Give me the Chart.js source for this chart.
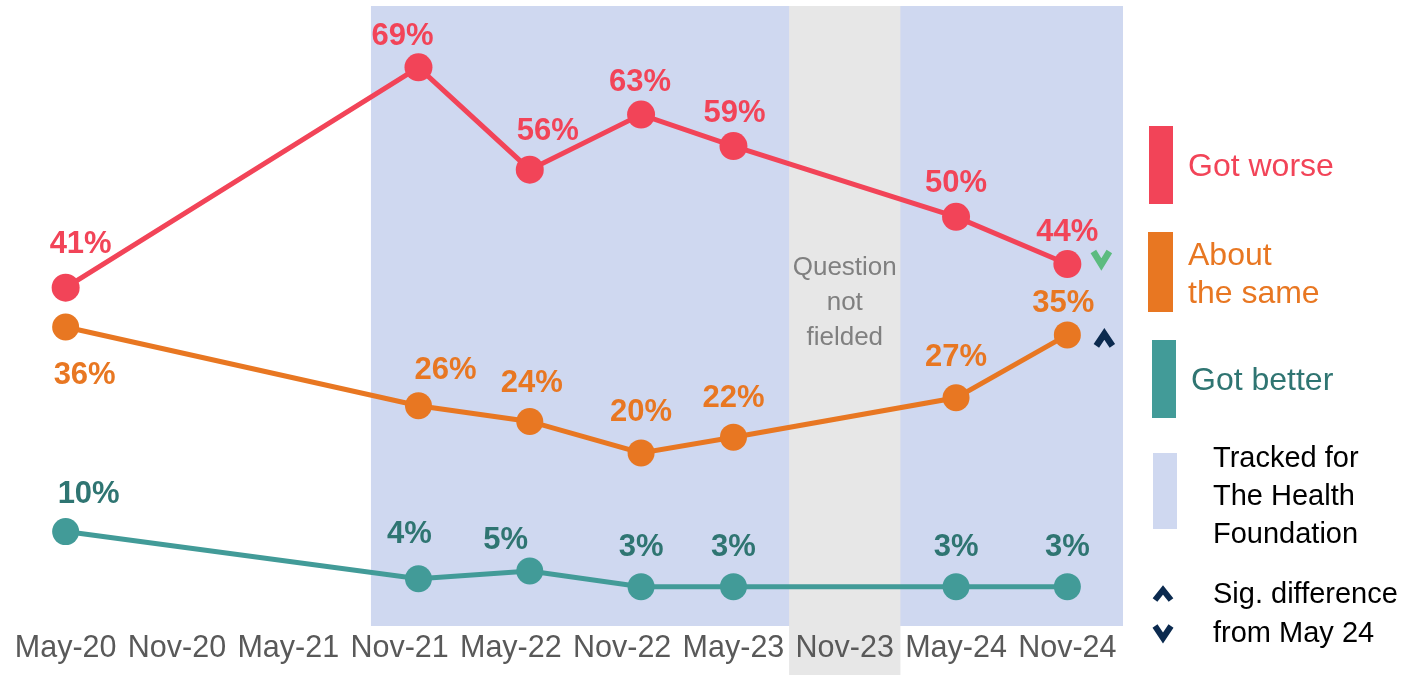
<!DOCTYPE html>
<html>
<head>
<meta charset="utf-8">
<script src="https://cdn.jsdelivr.net/npm/chart.js@4/dist/chart.umd.min.js"></script>
<style>
  html, body { margin: 0; padding: 0; background: #fff; }
  #wrap { position: relative; width: 1402px; height: 675px; overflow: hidden; font-family: Arial, "Liberation Sans", Helvetica, sans-serif; }
  canvas { position: absolute; left: 0; top: 0; }
  .lg { position: absolute; white-space: nowrap; }
</style>
</head>
<body>
<div id="wrap">
  <canvas id="c" width="1402" height="675"></canvas>
  <div class="lg" style="left:1188px; top:147px; font-size:32px; line-height:37px; color:#F24458;">Got worse</div>
  <div class="lg" style="left:1188px; top:236px; font-size:32px; line-height:37.5px; color:#E87722;">About<br>the same</div>
  <div class="lg" style="left:1191px; top:361px; font-size:32px; line-height:37px; color:#2F7572;">Got better</div>
  <div class="lg" style="left:1213px; top:438px; font-size:29px; color:#000; line-height:38px;">Tracked for<br>The Health<br>Foundation</div>
  <div class="lg" style="left:1213px; top:574px; font-size:29px; color:#000; line-height:39px;">Sig. difference<br>from May 24</div>
</div>
<script>
// ---- data ----
const categories = ['May-20','Nov-20','May-21','Nov-21','May-22','Nov-22','May-23','Nov-23','May-24','Nov-24'];
const waveX = [0, 3.17, 4.17, 5.17, 6, 8, 9];
const gotWorse  = [41, 69, 56, 63, 59, 50, 44];
const aboutSame = [36, 26, 24, 20, 22, 27, 35];
const gotBetter = [10, 4, 5, 3, 3, 3, 3];
const trackedFrom = 2.743;     // start of Health Foundation tracking band
const notFielded = 7;          // Nov-23 index

// label offsets (px) relative to each point (visual centre)
const offWorse  = [[15,-45],[-16,-33],[18,-40],[-1,-34],[1,-35],[0,-35],[0,-34]];
const offSame   = [[19,46],[27,-37],[2,-40],[0,-42],[0,-41],[0,-42],[-4,-33]];
const offBetter = [[23,-39],[-9,-46],[-24,-32],[0,-41],[0,-41],[0,-41],[0,-41]];

const FONT = 'Arial, "Liberation Sans", Helvetica, sans-serif';
const RED = '#F24458', ORANGE = '#E87722', TEAL = '#429B98', TEALTXT = '#2F7572';
const NAVY = '#0B2A4F', GREEN = '#5CBB7F';

const mk = arr => waveX.map((x, i) => ({x, y: arr[i]}));

function chevron(ctx, cx, cy, w, h, up, color, lw) {
  ctx.save();
  ctx.strokeStyle = color; ctx.lineWidth = lw || 5.5; ctx.lineJoin = 'miter'; ctx.lineCap = 'butt';
  ctx.beginPath();
  if (up) { ctx.moveTo(cx - w/2, cy + h/2); ctx.lineTo(cx, cy - h/2); ctx.lineTo(cx + w/2, cy + h/2); }
  else    { ctx.moveTo(cx - w/2, cy - h/2); ctx.lineTo(cx, cy + h/2); ctx.lineTo(cx + w/2, cy - h/2); }
  ctx.stroke();
  ctx.restore();
}

const bands = {
  id: 'bands',
  beforeDraw(chart) {
    const {ctx, chartArea: a, scales: {x}} = chart;
    ctx.save();
    ctx.fillStyle = '#CFD8F0';
    const l = x.getPixelForValue(trackedFrom);
    ctx.fillRect(l, a.top, a.right - l, a.bottom - a.top);
    ctx.fillStyle = '#E7E7E7';
    const gl = x.getPixelForValue(notFielded - 0.5), gr = x.getPixelForValue(notFielded + 0.5);
    ctx.fillRect(gl, a.top, gr - gl, chart.height - a.top);
    // question not fielded
    ctx.fillStyle = '#808080';
    ctx.font = '26px ' + FONT;
    ctx.textAlign = 'center'; ctx.textBaseline = 'middle';
    const cx = x.getPixelForValue(notFielded);
    ['Question','not','fielded'].forEach((t, i) => ctx.fillText(t, cx, 268 + i * 35));
    // legend swatches
    ctx.fillStyle = RED;    ctx.fillRect(1149, 126, 24, 78);
    ctx.fillStyle = ORANGE; ctx.fillRect(1148, 232, 25, 80);
    ctx.fillStyle = TEAL;   ctx.fillRect(1152, 340, 24, 78);
    ctx.fillStyle = '#CFD8F0'; ctx.fillRect(1153, 453, 24, 76);
    ctx.restore();
    chevron(ctx, 1163, 595, 16, 10, true, NAVY, 6);
    chevron(ctx, 1163, 632, 16, 12, false, NAVY, 6);
  }
};

const labels = {
  id: 'labels',
  afterDatasetsDraw(chart) {
    const ctx = chart.ctx;
    const offs = [offWorse, offSame, offBetter];
    const cols = [RED, ORANGE, TEALTXT];
    ctx.save();
    ctx.font = 'bold 31px ' + FONT;
    ctx.textAlign = 'center'; ctx.textBaseline = 'middle';
    chart.data.datasets.forEach((ds, di) => {
      const meta = chart.getDatasetMeta(di);
      ctx.fillStyle = cols[di];
      meta.data.forEach((pt, i) => {
        ctx.fillText(ds.data[i].y + '%', pt.x + offs[di][i][0], pt.y + offs[di][i][1] + 2);
      });
    });
    ctx.restore();
    // significance markers at last wave
    const last = waveX.length - 1;
    const pw = chart.getDatasetMeta(0).data[last];
    const ps = chart.getDatasetMeta(1).data[last];
    chevron(ctx, pw.x + 34, pw.y - 6, 16, 13, false, GREEN, 6.5);
    chevron(ctx, ps.x + 37, ps.y + 5, 16, 12, true, NAVY, 6.5);
  }
};

new Chart(document.getElementById('c'), {
  type: 'line',
  data: {
    datasets: [
      {label: 'Got worse', data: mk(gotWorse), borderColor: RED, pointRadius: 14},
      {label: 'About the same', data: mk(aboutSame), borderColor: ORANGE, pointRadius: 13.5},
      {label: 'Got better', data: mk(gotBetter), borderColor: TEAL, pointRadius: 13.5}
    ].map(d => Object.assign(d, {backgroundColor: d.borderColor, borderWidth: 5, pointBorderWidth: 0, pointBackgroundColor: d.borderColor, tension: 0, fill: false}))
  },
  options: {
    responsive: false,
    animation: false,
    devicePixelRatio: 1,
    layout: {autoPadding: false, padding: {left: 10, right: 279, top: 6, bottom: 0}},
    plugins: {legend: {display: false}, tooltip: {enabled: false}},
    scales: {
      x: {
        type: 'linear', min: -0.5, max: 9.5,
        grid: {display: false, drawTicks: false}, border: {display: false},
        afterBuildTicks: s => { s.ticks = categories.map((_, i) => ({value: i})); },
        afterFit: s => { s.height = 49; s.paddingLeft = 0; s.paddingRight = 0; },
        ticks: {
          autoSkip: false, maxRotation: 0, padding: 4,
          color: '#595959', font: {size: 30.5, family: FONT},
          callback: v => categories[v] ?? ''
        }
      },
      y: {display: false, min: -2, max: 76.8}
    }
  },
  plugins: [bands, labels]
});
</script>
</body>
</html>
